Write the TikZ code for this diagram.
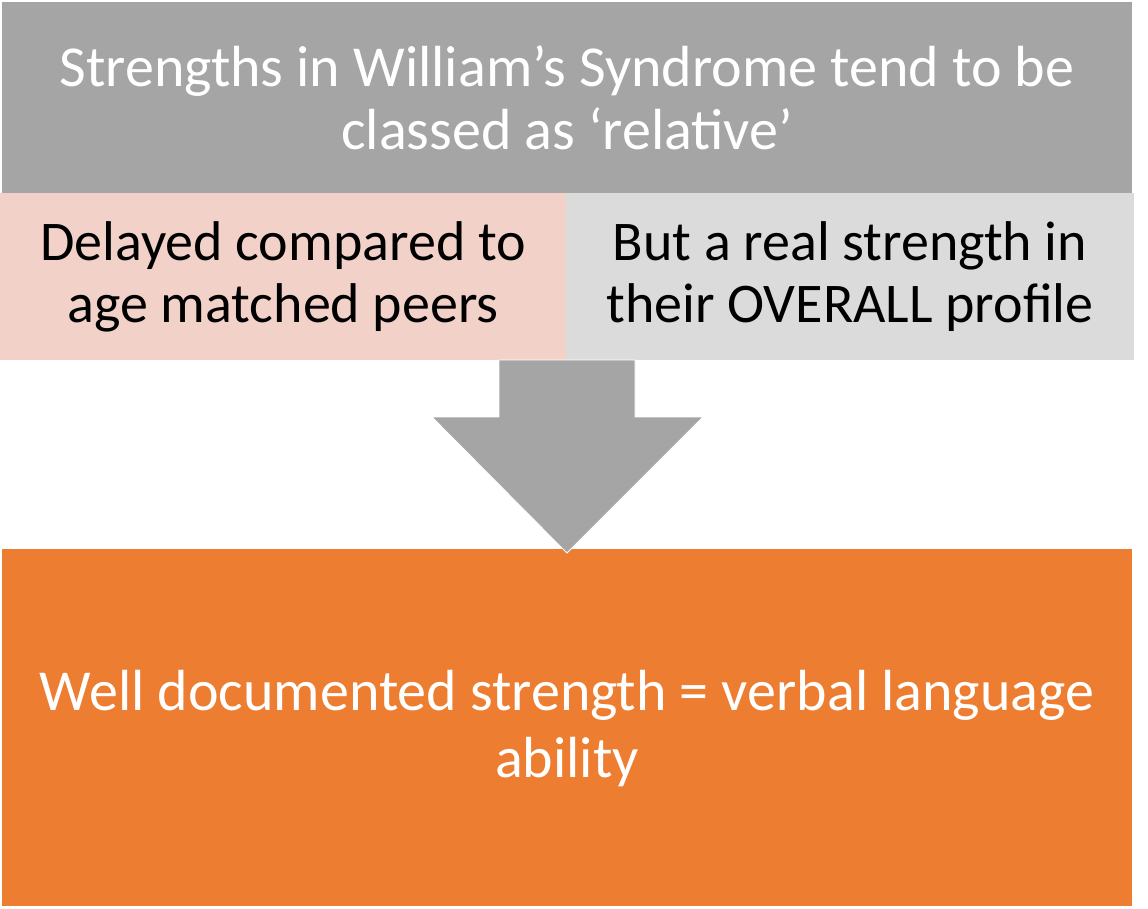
\documentclass[tikz,border=0pt]{standalone}
\usepackage{fontspec}
\setmainfont{Carlito}
\definecolor{topgrey}{HTML}{A5A5A5}
\definecolor{pinkbox}{HTML}{F2D2C8}
\definecolor{lightgrey}{HTML}{DBDBDB}
\definecolor{orangebox}{HTML}{ED7D31}
\begin{document}
\begin{tikzpicture}[x=1pt,y=-1pt,
  box/.style={rectangle,inner sep=0pt,outer sep=0pt,anchor=north west,align=center},
  titletext/.style={font=\fontsize{58}{63}\selectfont,text=white},
  midtext/.style={font=\fontsize{56}{62}\selectfont,text=black},
  bottext/.style={font=\fontsize{58}{67}\selectfont,text=white}]
\useasboundingbox (0,0) rectangle (1148,909);
\fill[white] (0,0) rectangle (1148,909);
% boxes
\node[box,fill=topgrey,minimum width=1130pt,minimum height=191pt] (top) at (2,2) {};
\node[box,fill=pinkbox,minimum width=566pt,minimum height=167pt] (left) at (0,193) {};
\node[box,fill=lightgrey,minimum width=568pt,minimum height=167pt] (right) at (566,193) {};
\node[box,fill=orangebox,minimum width=1130pt,minimum height=357pt] (bottom) at (2,549) {};
% texts
\node[titletext,align=center] (toptext) at (top.center) {Strengths in William’s Syndrome tend to be\\classed as ‘relative’};
\node[midtext,align=center] (lefttext) at (left.center) {Delayed compared to\\age matched peers};
\node[midtext,align=center] (righttext) at (right.center) {But a real strength in\\their OVERALL profile};
\node[bottext,align=center] (bottext) at ([yshift=-1pt]bottom.center) {Well documented strength = verbal language\\ability};
% block arrow
\coordinate (atop) at (567,360);
\coordinate (atip) at (567,553);
\fill[topgrey,draw=white,line width=0.8pt]
  ([xshift=-68pt]atop) -- ([xshift=68pt]atop) -- (635,417) -- (703,417) -- (atip) -- (432,417) -- (499,417) -- cycle;
\end{tikzpicture}
\end{document}
